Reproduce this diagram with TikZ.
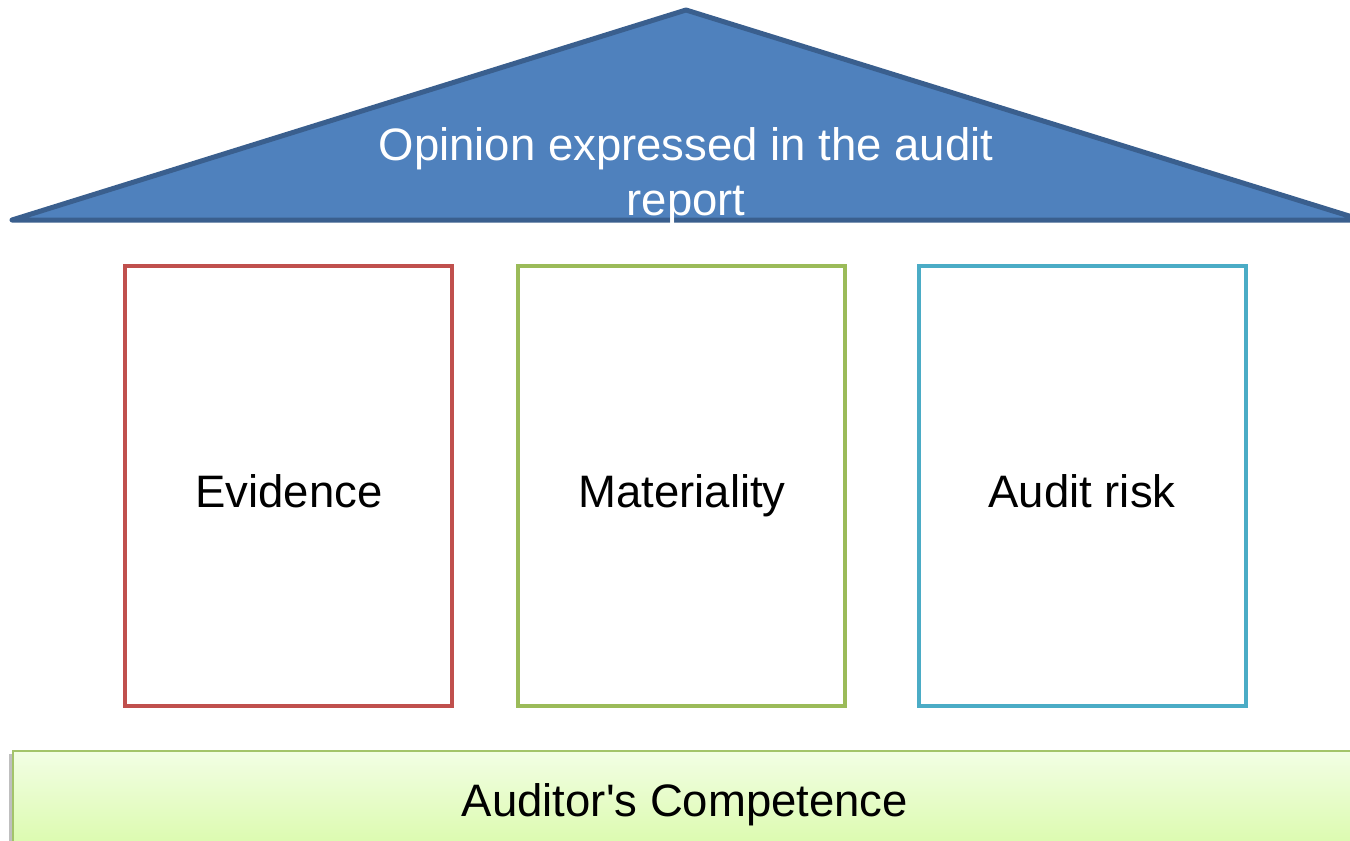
\documentclass[tikz,border=0pt]{standalone}
\usepackage{fontspec}
\setmainfont{Liberation Sans}[Ligatures=TeXOff]
\definecolor{roofline}{HTML}{3A5F8E}
\definecolor{roofill}{HTML}{4F81BD}
\definecolor{cred}{HTML}{C0504D}
\definecolor{cgreen}{HTML}{9BBB59}
\definecolor{cblue}{HTML}{4BACC6}
\definecolor{bartop}{HTML}{F2FEE4}
\definecolor{barbot}{HTML}{D8FAA6}
\definecolor{barline}{HTML}{A3C46A}
\tikzset{
  pillar/.style={draw, line width=4pt, fill=white},
  lbl/.style={font=\fontsize{45.5}{55}\selectfont, text=black, anchor=base, inner sep=0pt},
}
\begin{document}
\begin{tikzpicture}[x=1pt,y=-1pt]
\useasboundingbox (0,0) rectangle (1350,841);
\clip (0,0) rectangle (1350,841);
% roof
\draw[line width=5pt, draw=roofline, fill=roofill, line join=round, line cap=round]
  (12,220) -- (686,10) -- (1362,220) -- cycle;
\node[lbl, text=white] (roof1) at (686,160) {Opinion expressed in the audit};
\node[lbl, text=white] (roof2) at (686,215) {report};
% pillars
\draw[pillar, draw=cred] (125,266) rectangle (452,706);
\draw[pillar, draw=cgreen] (518,266) rectangle (845,706);
\draw[pillar, draw=cblue] (919,266) rectangle (1246,706);
\node[lbl] (ev) at (289,507) {Evidence};
\node[lbl] (mat) at (682,507) {Materiality};
\node[lbl] (risk) at (1082,507) {Audit risk};
% base
\fill[black!25] (9,754) rectangle (14,850);
\draw[line width=2pt, draw=barline, top color=bartop, bottom color=barbot] (13,751) rectangle (1360,860);
\node[lbl] (base) at (685,816) {Auditor's Competence};
\end{tikzpicture}
\end{document}
